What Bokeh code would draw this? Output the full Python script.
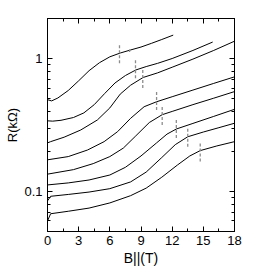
from bokeh.plotting import figure
from bokeh.models import (Range1d, FixedTicker, LinearAxis, LogAxis,
                          CustomJSTickFormatter)
from bokeh.embed import file_html
from bokeh.resources import INLINE

# ---- data ----
B1 = [0, 0.4, 1, 2, 3, 4, 5, 6, 7, 8, 9, 10, 11, 12.1]
R1 = [0.49, 0.48, 0.505, 0.575, 0.68, 0.81, 0.93, 1.03, 1.10, 1.16, 1.22, 1.30, 1.39, 1.50]

B2 = [0, 0.5, 1.3, 2.5, 3.5, 4.5, 5.5, 6.5, 7.5, 8.5, 9.5, 10.6, 12, 14, 15.9]
R2 = [0.34, 0.338, 0.343, 0.36, 0.39, 0.45, 0.545, 0.655, 0.745, 0.82, 0.87, 0.92, 1.0, 1.15, 1.33]

B3 = [0, 0.3, 1.6, 3.2, 4.8, 6, 7, 8, 9.2, 10.6, 12, 14, 16, 18]
R3 = [0.232, 0.237, 0.256, 0.29, 0.345, 0.425, 0.54, 0.63, 0.72, 0.78, 0.86, 0.99, 1.15, 1.35]

B4 = [0, 2, 3.85, 5.45, 6.75, 8, 9.3, 10.5, 12, 14, 16, 18]
R4 = [0.173, 0.183, 0.205, 0.237, 0.282, 0.355, 0.434, 0.473, 0.516, 0.579, 0.65, 0.728]

B5 = [0, 2.5, 4.4, 6, 7.3, 8.5, 9.8, 11.04, 12, 14, 16, 18]
R5 = [0.135, 0.146, 0.162, 0.183, 0.212, 0.262, 0.33, 0.378, 0.40, 0.45, 0.503, 0.564]

B6 = [0, 2, 4, 6, 7.5, 9, 10.5, 11.5, 12.4, 14, 16, 18]
R6 = [0.112, 0.116, 0.122, 0.133, 0.152, 0.185, 0.232, 0.27, 0.295, 0.325, 0.367, 0.415]

B7 = [0, 0.3, 2, 4, 6, 8, 9.5, 11, 12.3, 13.5, 15, 16.5, 18]
R7 = [0.085, 0.092, 0.095, 0.099, 0.105, 0.118, 0.14, 0.18, 0.225, 0.258, 0.28, 0.302, 0.326]

B8 = [0, 0.3, 2, 4, 6, 8, 9.5, 11, 12.5, 13.7, 14.7, 16.3, 18]
R8 = [0.060, 0.068, 0.071, 0.075, 0.082, 0.093, 0.106, 0.128, 0.158, 0.185, 0.203, 0.22, 0.237]

mark_B = [6.93, 7.9, 8.47, 9.17, 10.5, 11.04, 12.4, 13.5, 14.7]
mark_lo = [0.92, 1.12, 0.71, 0.60, 0.41, 0.316, 0.253, 0.217, 0.168]
mark_hi = [1.26, 1.17, 1.0, 0.84, 0.562, 0.434, 0.345, 0.307, 0.237]

x_major = [0, 3, 6, 9, 12, 15, 18]
x_minor = [1.5, 4.5, 7.5, 10.5, 13.5, 16.5]
y_major = [0.1, 1]
y_minor = [0.05, 0.06, 0.07, 0.08, 0.09, 0.2, 0.3, 0.4, 0.5, 0.6, 0.7, 0.8, 0.9, 2]

curves = [(B1, R1), (B2, R2), (B3, R3), (B4, R4), (B5, R5), (B6, R6), (B7, R7), (B8, R8)]

FONT = "Liberation Sans"

p = figure(frame_width=187, frame_height=213, y_axis_type="log", output_backend="svg",
           toolbar_location=None, x_range=Range1d(0, 18), y_range=Range1d(0.05, 2.0),
           min_border_left=47, min_border_right=14, min_border_top=18, min_border_bottom=0)
p.grid.visible = False
p.background_fill_color = "white"
p.border_fill_color = "white"
p.outline_line_color = "black"
p.outline_line_width = 1

for bx, ry in curves:
    p.line(bx, ry, line_color="black", line_width=1)

p.segment(x0=mark_B, y0=mark_lo, x1=mark_B, y1=mark_hi,
          line_color="#8c8c8c", line_width=1.3, line_dash="3 2")

def style(ax, show):
    ax.major_tick_in = 5
    ax.major_tick_out = 0
    ax.minor_tick_in = 3
    ax.minor_tick_out = 0
    ax.axis_line_color = "black"
    ax.major_tick_line_color = "black"
    ax.minor_tick_line_color = "black"
    if show:
        ax.major_label_text_font = FONT
        ax.major_label_text_font_size = "13px"
        ax.major_label_text_color = "black"
        ax.major_label_standoff = 5
        ax.axis_label_text_font = FONT
        ax.axis_label_text_font_style = "normal"
        ax.axis_label_text_color = "black"
    else:
        ax.major_label_text_font_size = "1px"
        ax.major_label_text_color = None
        ax.major_label_standoff = 0

p.xaxis.ticker = FixedTicker(ticks=x_major, minor_ticks=x_minor)
p.yaxis.ticker = FixedTicker(ticks=y_major, minor_ticks=y_minor)
p.yaxis.formatter = CustomJSTickFormatter(code="return tick.toString();")
style(p.xaxis[0], True)
style(p.yaxis[0], True)
p.xaxis.major_label_standoff = 4

p.yaxis.axis_label = "R(kΩ)"
p.yaxis.axis_label_text_font_size = "13px"
p.yaxis.axis_label_standoff = 1

p.xaxis.axis_label = "B||(T)"
p.xaxis.axis_label_text_font_size = "14px"
p.xaxis.axis_label_standoff = 2

top = LinearAxis(ticker=FixedTicker(ticks=x_major, minor_ticks=x_minor))
right = LogAxis(ticker=FixedTicker(ticks=y_major, minor_ticks=y_minor),
                formatter=CustomJSTickFormatter(code="return tick.toString();"))
style(top, False)
style(right, False)
p.add_layout(top, "above")
p.add_layout(right, "right")

open("out.html", "w").write(file_html(p, INLINE))
